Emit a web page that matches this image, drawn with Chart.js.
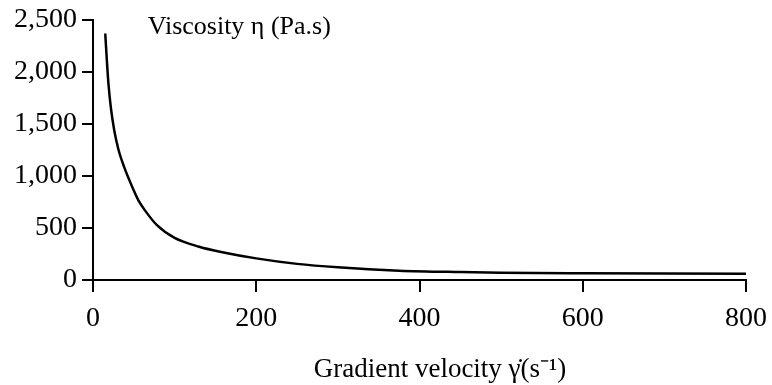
<!DOCTYPE html>
<html>
<head>
<meta charset="utf-8">
<script src="https://cdn.jsdelivr.net/npm/chart.js@4/dist/chart.umd.min.js"></script>
<style>
  html, body { margin: 0; padding: 0; background: #fff; }
  #wrap { width: 772px; height: 385px; }
</style>
</head>
<body>
<div id="wrap"><canvas id="viscChart"></canvas></div>
<script>
// shear rate (s^-1) and viscosity (Pa.s)
const shearRate = [15, 17, 19, 22, 26, 31, 38, 50, 56, 65, 78, 100, 130, 160, 200, 250, 300, 375, 450, 500, 600, 700, 800];
const viscosity = [2370, 2110, 1880, 1650, 1440, 1260, 1090, 860, 760, 655, 530, 405, 320, 265, 208, 155, 122, 90, 76, 70, 65, 62, 60];

const xTicks = [0, 200, 400, 600, 800];
const yTicks = [0, 500, 1000, 1500, 2000, 2500];

const chartTitle = "Viscosity η (Pa.s)";
const xTitle = "Gradient velocity γ̇(s⁻¹)";

const serif = "'Liberation Serif', 'Times New Roman', serif";

// the two captions sit off-centre in the original, so draw them by hand
const captions = {
    id: "captions",
    afterDraw(chart) {
        const ctx = chart.ctx;
        const xs = chart.scales.x;
        ctx.save();
        ctx.fillStyle = "#000";
        ctx.textBaseline = "middle";
        ctx.font = "26px " + serif;
        ctx.textAlign = "left";
        ctx.fillText(chartTitle, xs.getPixelForValue(67), chart.chartArea.top + 7);
        ctx.font = "27px " + serif;
        ctx.textAlign = "center";
        ctx.fillText(xTitle, xs.getPixelForValue(425), chart.chartArea.bottom + 90);
        ctx.restore();
    }
};

const points = shearRate.map((x, i) => ({ x: x, y: viscosity[i] }));

new Chart(document.getElementById("viscChart"), {
    type: "line",
    data: {
        datasets: [{
            data: points,
            borderColor: "#000",
            borderWidth: 2.5,
            pointRadius: 0,
            fill: false,
            cubicInterpolationMode: "monotone"
        }]
    },
    options: {
        responsive: true,
        maintainAspectRatio: false,
        animation: false,
        layout: { padding: { top: 20, right: 26, bottom: 0, left: 0 } },
        plugins: {
            legend: { display: false },
            tooltip: { enabled: false }
        },
        scales: {
            x: {
                type: "linear",
                min: 0,
                max: 800,
                afterBuildTicks: s => { s.ticks = xTicks.map(v => ({ value: v })); },
                afterFit: s => { s.height = 105; s.paddingLeft = 0; s.paddingRight = 0; },
                border: { display: true, color: "#000", width: 2 },
                grid: { drawOnChartArea: false, drawTicks: true, tickLength: 12, color: "#000", lineWidth: 2 },
                ticks: {
                    color: "#000",
                    font: { family: serif, size: 28 },
                    padding: 10,
                    maxRotation: 0
                }
            },
            y: {
                min: 0,
                max: 2500,
                afterBuildTicks: s => { s.ticks = yTicks.map(v => ({ value: v })); },
                afterFit: s => { s.width = 93; s.paddingTop = 0; s.paddingBottom = 0; },
                border: { display: true, color: "#000", width: 2 },
                grid: { drawOnChartArea: false, drawTicks: true, tickLength: 11, color: "#000", lineWidth: 2 },
                ticks: {
                    color: "#000",
                    font: { family: serif, size: 28 },
                    padding: 5,
                    callback: v => v.toLocaleString("en-US")
                }
            }
        }
    },
    plugins: [captions]
});
</script>
</body>
</html>
